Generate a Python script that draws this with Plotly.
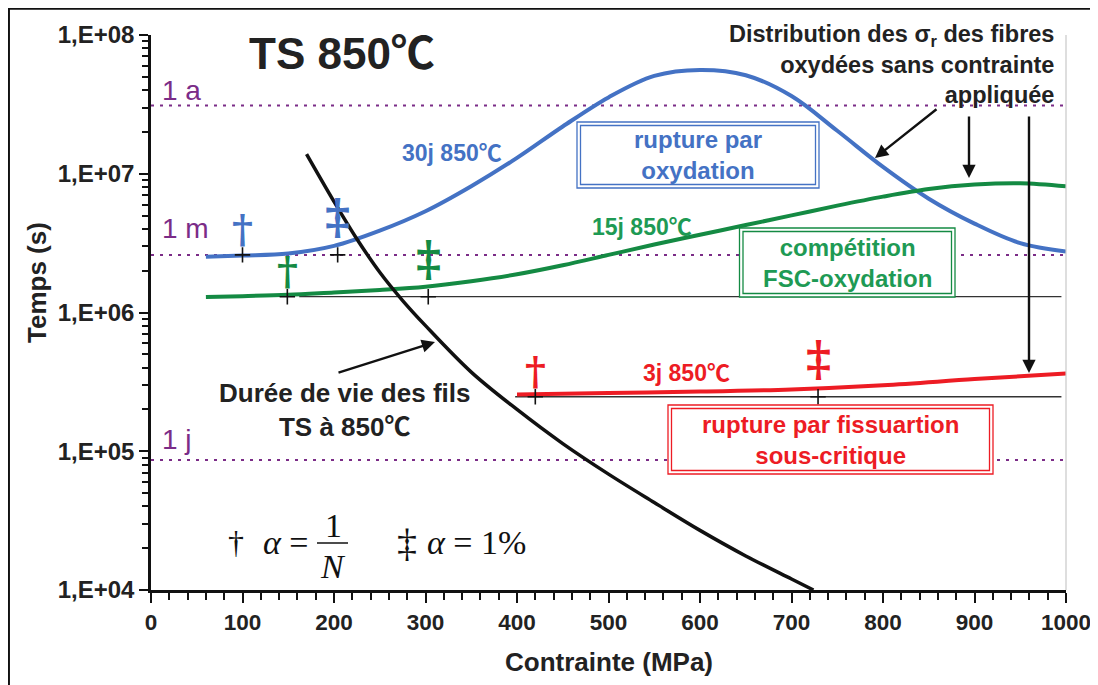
import math
import plotly.graph_objects as go

# ---------------- data ----------------
stress_30j = [60, 100, 150, 200, 250, 300, 350, 400, 450, 500, 550, 600, 650, 700, 750, 800, 850, 900, 950, 1000]
time_30j = [2.52e6, 2.57e6, 2.66e6, 3.02e6, 3.89e6, 5.37e6, 8.13e6, 1.30e7, 2.19e7, 3.55e7,
            5.07e7, 5.60e7, 5.13e7, 3.63e7, 2.04e7, 1.12e7, 6.61e6, 4.37e6, 3.16e6, 2.75e6]

stress_15j = [60, 100, 150, 200, 250, 300, 350, 400, 450, 500, 550, 600, 650, 700, 750, 800, 850, 900, 950, 1000]
time_15j = [1.294e6, 1.312e6, 1.343e6, 1.396e6, 1.452e6, 1.531e6, 1.679e6, 1.884e6, 2.188e6, 2.60e6,
            3.09e6, 3.63e6, 4.27e6, 5.01e6, 5.89e6, 6.84e6, 7.76e6, 8.36e6, 8.55e6, 8.13e6]

stress_3j = [400, 500, 600, 700, 800, 900, 1000]
time_3j = [2.56e5, 2.63e5, 2.69e5, 2.79e5, 2.99e5, 3.31e5, 3.63e5]

stress_life = [170, 200, 225, 250, 275, 300, 350, 400, 450, 500, 550, 600, 650, 700, 724]
time_life = [1.387e7, 6.31e6, 3.39e6, 1.95e6, 1.22e6, 8.04e5, 3.72e5, 2.00e5, 1.135e5,
             6.84e4, 4.27e4, 2.69e4, 1.76e4, 1.20e4, 1.0e4]

ref_labels = ["1 a", "1 m", "1 j"]
ref_times = [3.1e7, 2.6e6, 8.64e4]
ref_span = [0, 1000]

mark_30j_x = [100, 204]
mark_30j_y = 2.6e6
mark_15j_x = [149, 303]
mark_15j_y = 1.3e6
mark_3j_x = [420, 729]
mark_3j_y = 2.47e5
base_15j_x = [162, 995]
base_3j_x = [398, 995]

x_ticks = list(range(0, 1001, 100))
y_ticks = [1e4, 1e5, 1e6, 1e7, 1e8]
y_ticktext = ["1,E+04", "1,E+05", "1,E+06", "1,E+07", "1,E+08"]

# ---------------- styling ----------------
BLUE = "#4472C4"
GREEN = "#148A43"
GREEN_T = "#1E9A54"
RED = "#ED1C24"
PURPLE = "#7B2C87"
INK = "#222222"
SANS = "Liberation Sans, Arial, Noto Sans CJK SC, sans-serif"
SERIF = "Liberation Serif, Times New Roman, serif"

# window geometry (page body has an 8px margin)
OFF = 8
W, H = 1098, 685
L, R, T, B = 151, 1066, 35, 590


def px(x):
    return (x - L) / (R - L)


def py(y):
    return 1 - (y - T) / (B - T)


fig = go.Figure()

# reference dotted lines
for t in ref_times:
    fig.add_trace(go.Scatter(x=ref_span, y=[t, t], mode="lines",
                             line=dict(color=PURPLE, width=2, dash="3px,6px"),
                             hoverinfo="skip", showlegend=False))

# thin baselines
fig.add_trace(go.Scatter(x=base_15j_x, y=[mark_15j_y] * 2, mode="lines",
                         line=dict(color="#333333", width=1.3), showlegend=False))
fig.add_trace(go.Scatter(x=base_3j_x, y=[mark_3j_y] * 2, mode="lines",
                         line=dict(color="#333333", width=1.3), showlegend=False))

# curves
fig.add_trace(go.Scatter(x=stress_30j, y=time_30j, mode="lines",
                         line=dict(color=BLUE, width=4, shape="spline", smoothing=1.0), showlegend=False))
fig.add_trace(go.Scatter(x=stress_15j, y=time_15j, mode="lines",
                         line=dict(color=GREEN, width=4, shape="spline", smoothing=1.0), showlegend=False))
fig.add_trace(go.Scatter(x=stress_3j, y=time_3j, mode="lines",
                         line=dict(color=RED, width=4, shape="spline", smoothing=1.0), showlegend=False))
fig.add_trace(go.Scatter(x=stress_life, y=time_life, mode="lines",
                         line=dict(color="#111111", width=3.5, shape="spline", smoothing=1.0), showlegend=False))

# cross markers
for xs, yv in [(mark_30j_x, mark_30j_y), (mark_15j_x, mark_15j_y), (mark_3j_x, mark_3j_y)]:
    fig.add_trace(go.Scatter(x=xs, y=[yv] * len(xs), mode="markers",
                             marker=dict(symbol="cross-thin", size=11, line=dict(color="#111111", width=1.6)),
                             showlegend=False))

ann = []


def label(x, y, text, size, color=INK, bold=True, family=SANS, **kw):
    d = dict(x=px(x), y=py(y), xref="paper", yref="paper", text=text, showarrow=False,
             xanchor=kw.pop("xanchor", "center"), yanchor=kw.pop("yanchor", "middle"),
             font=dict(family=family, size=size, color=color, weight="bold" if bold else "normal"))
    d.update(kw)
    ann.append(d)


# daggers above markers
for xs, yv, col in [(mark_30j_x, mark_30j_y, BLUE), (mark_15j_x, mark_15j_y, GREEN),
                    (mark_3j_x, mark_3j_y, RED)]:
    ann.append(dict(x=xs[0], y=math.log10(yv), xref="x", yref="y", text="†", showarrow=False,
                    xanchor="center", yanchor="middle", yshift=26,
                    font=dict(family="DejaVu Serif", size=40, color=col, weight="bold")))
    ann.append(dict(x=xs[1], y=math.log10(yv), xref="x", yref="y", text="‡", showarrow=False,
                    xanchor="center", yanchor="middle", yshift=38,
                    font=dict(family="DejaVu Serif", size=48, color=col, weight="bold")))

# reference line labels
for lab, ypix in zip(ref_labels, [91, 228, 439]):
    label(160, ypix, lab, 28, color=PURPLE, bold=False, xanchor="left")

# title
label(342, 53, "TS 850℃", 44)

# curve labels
label(452, 153, "30j 850℃", 23, color=BLUE)
label(642, 227, "15j 850℃", 23, color=GREEN_T)
label(686, 373, "3j 850℃", 23, color=RED)

# boxes (double border) as shapes + texts
shapes = []
for txt, x0, x1, y0, y1, col, tcol in [
    ("rupture par<br>oxydation", 577, 819, 122, 188, BLUE, BLUE),
    ("compétition<br>FSC-oxydation", 739.5, 955, 228, 297, GREEN, GREEN_T),
    ("rupture par fissuartion<br>sous-critique", 668, 993, 405, 474, RED, RED),
]:
    shapes.append(dict(type="rect", xref="paper", yref="paper", x0=px(x0), x1=px(x1), y0=py(y0), y1=py(y1),
                       line=dict(color=col, width=1.3), fillcolor="white", layer="above"))
    shapes.append(dict(type="rect", xref="paper", yref="paper", x0=px(x0 + 3.5), x1=px(x1 - 3.5),
                       y0=py(y0 + 3.5), y1=py(y1 - 3.5), line=dict(color=col, width=1.3), layer="above"))
    label((x0 + x1) / 2, (y0 + y1) / 2, txt, 24, color=tcol)

# distribution text
label(1056, 64, "Distribution des σ<sub>r</sub> des fibres<br>oxydées sans contrainte<br>appliquée",
      23.5, xanchor="right", align="right")

# lifetime text
label(344, 409.5, "Durée de vie des fils<br>TS à 850℃", 26)

# arrows (head on curve, tail offset in pixels)
for hx, hy, ax_, ay_ in [(435, 342, -98, 31), (875, 158, 63, -50), (969, 178, 0, -63), (1029, 373, 0, -258)]:
    ann.append(dict(x=px(hx), y=py(hy), xref="paper", yref="paper", text="", showarrow=True,
                    ax=ax_, ay=ay_, arrowhead=2, arrowsize=1.1, arrowwidth=2.4, arrowcolor="#111111", standoff=0))

# formula legend
label(236, 542, "†", 32, color="#111111", bold=False, family=SERIF)
label(286, 542, "<i>α</i> =", 34, color="#111111", bold=False, family=SERIF)
label(333, 525, "1", 34, color="#111111", bold=False, family=SERIF)
label(333, 566, "<i>N</i>", 34, color="#111111", bold=False, family=SERIF)
label(407, 542, "‡", 40, color="#111111", bold=False, family=SERIF)
label(476, 542, "<i>α</i> = 1%", 34, color="#111111", bold=False, family=SERIF)

# axis titles
label(609, 662, "Contrainte (MPa)", 26)
label(37, 283, "Temps (s)", 26, textangle=-90)

shapes += [
    # outer frame
    dict(type="rect", xref="paper", yref="paper", x0=px(8.7), x1=px(1130), y0=py(8.5), y1=py(720),
         line=dict(color="#111111", width=2.5)),
    # right grey border
    dict(type="line", xref="paper", yref="paper", x0=1, x1=1, y0=0, y1=1,
         line=dict(color="#C8C8C8", width=1.2)),
    # fraction bar
    dict(type="line", xref="paper", yref="paper", x0=px(317), x1=px(348), y0=py(543), y1=py(543),
         line=dict(color="#111111", width=1.5)),
]

minor_y = [k * 10 ** e for e in range(4, 8) for k in range(2, 10)]

fig.update_layout(
    width=W - OFF, height=H - OFF,
    margin=dict(l=L - OFF, r=W - R, t=T - OFF, b=H - B, autoexpand=False),
    paper_bgcolor="white", plot_bgcolor="white",
    showlegend=False,
    annotations=ann,
    shapes=shapes,
    xaxis=dict(range=[0, 1000], tickvals=x_ticks, showgrid=False, zeroline=False,
               showline=True, linecolor="#111111", linewidth=2.5,
               ticks="outside", ticklen=10, tickwidth=2.2, tickcolor="#111111",
               minor=dict(dtick=20, ticks="outside", ticklen=7, tickwidth=2, tickcolor="#111111"),
               tickfont=dict(family=SANS, size=22.5, color=INK, weight="bold")),
    yaxis=dict(type="log", range=[4, 8], tickvals=y_ticks, ticktext=y_ticktext, showgrid=False,
               zeroline=False, showline=True, linecolor="#111111", linewidth=2.5,
               ticks="outside", ticklen=9, tickwidth=2.2, tickcolor="#111111",
               minor=dict(tickvals=minor_y, ticks="outside", ticklen=6, tickwidth=2, tickcolor="#111111"),
               tickfont=dict(family=SANS, size=24, color=INK, weight="bold")),
)

fig.write_html("out.html")
